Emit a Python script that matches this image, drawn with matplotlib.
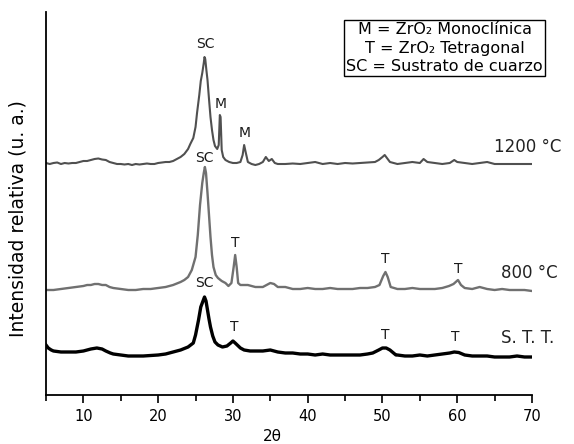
# XRD patterns of ZrO2 films on quartz: as-deposited (S. T. T.), 800 C, 1200 C
import matplotlib
matplotlib.use('Agg')
import matplotlib.pyplot as plt
from matplotlib.ticker import MultipleLocator

# 2theta / relative intensity (traces already stacked)
tt_1200 = [5, 5.5, 6, 6.5, 7, 7.5, 8, 8.5, 9, 9.5, 10, 10.5, 11, 11.5, 12, 12.5, 13, 13.5,
           14, 14.5, 15, 15.5, 16, 16.5, 17, 17.5, 18, 18.5, 19, 19.5, 20, 20.5, 21, 21.5,
           22, 22.5, 23, 23.5, 24, 24.3, 24.7, 25, 25.2, 25.5, 25.7, 25.9, 26.1, 26.2, 26.3,
           26.45, 26.6, 26.8, 27, 27.2, 27.4, 27.6, 27.9, 28.1, 28.25, 28.35, 28.5, 28.7, 29,
           29.5, 30, 30.5, 31, 31.3, 31.5, 31.7, 32, 32.5, 33, 33.5, 34, 34.4, 34.8, 35.2,
           35.6, 36, 37, 38, 39, 40, 41, 42, 43, 44, 45, 46, 47, 48, 49, 49.5, 50, 50.3,
           50.7, 51, 52, 53, 54, 55, 55.5, 56, 57, 58, 59, 59.6, 60, 61, 62, 63, 64, 65, 66,
           67, 68, 69, 70]
int_1200 = [232, 231, 232, 232.5, 231, 232, 231.5, 232, 232, 233, 234, 234, 235, 236, 236.5,
            235.5, 235, 233, 232, 231, 231, 230.5, 231, 230, 231, 230.5, 231, 231.5, 231, 231,
            232, 232.5, 233, 233, 234, 236, 238, 241, 246, 251, 257, 268, 282, 300, 314, 322,
            332, 338, 336, 325, 315, 296, 278, 265, 255, 249, 246, 250, 280, 278, 245, 238,
            235, 233, 232, 232, 233, 240, 250, 243, 233, 231, 230, 231, 233, 238, 234, 236,
            232, 231, 231, 231.5, 231, 232, 233, 231, 232, 231, 232, 231.5, 232, 232.5, 233,
            235, 238, 240, 236, 233, 231, 232, 233, 232, 236, 233, 232, 231, 232, 235, 233,
            232, 231, 232, 233, 231, 231, 231, 231, 231, 231]

tt_800 = [5, 6, 7, 8, 9, 10, 10.5, 11, 11.5, 12, 12.5, 13, 13.5, 14, 15, 16, 17, 18, 19, 20,
          21, 22, 23, 23.5, 24, 24.5, 25, 25.3, 25.6, 25.9, 26.1, 26.25, 26.4, 26.6, 26.8,
          27, 27.2, 27.4, 27.7, 28, 28.5, 29, 29.4, 29.8, 30.1, 30.3, 30.5, 30.7, 31, 32, 33,
          34, 35, 35.5, 36, 37, 38, 39, 40, 41, 42, 43, 44, 45, 46, 47, 48, 49, 49.6, 50.1,
          50.4, 50.7, 51.1, 52, 53, 54, 55, 56, 57, 58, 58.9, 59.5, 60.1, 60.5, 61, 62, 63,
          64, 65, 66, 67, 68, 69, 70]
int_800 = [105, 105, 106, 107, 108, 109, 110, 110, 111, 111, 110, 110, 108, 107, 106, 105,
           105, 106, 106, 107, 108, 110, 113, 115, 118, 125, 138, 160, 190, 212, 222, 228,
           222, 202, 180, 158, 140, 128, 120, 117, 114, 112, 109, 112, 128, 140, 128, 112,
           110, 110, 108, 108, 112, 111, 108, 108, 106, 106, 107, 106, 106, 107, 106, 106,
           106, 107, 107, 108, 110, 119, 123, 118, 108, 106, 106, 107, 106, 106, 106, 107,
           109, 111, 115, 110, 107, 106, 108, 106, 105, 106, 105, 105, 105, 104]

tt_stt = [5, 5.3, 5.7, 6, 7, 8, 9, 10, 11, 11.8, 12.5, 13, 13.6, 14, 15, 16, 17, 18, 19, 20,
          21, 22, 23, 24, 24.7, 25, 25.4, 25.7, 25.9, 26.2, 26.4, 26.6, 26.8, 27, 27.3, 27.6,
          28, 28.6, 29.2, 29.7, 30, 30.3, 31, 31.5, 32.3, 33, 34, 35, 36, 37, 38, 39, 40, 41,
          42, 43, 44, 45, 46, 47, 48, 48.7, 49.5, 50, 50.5, 51, 51.8, 52, 53, 54, 55, 56, 57,
          58, 59, 59.6, 60.2, 61, 62, 63, 64, 65, 66, 67, 68, 69, 70]
int_stt = [50, 47, 45, 44, 43, 43, 43, 44, 46, 47, 46, 44, 42, 41, 40, 39, 39, 39, 39.5, 40,
           41, 43, 45, 48, 52, 60, 75, 88, 92, 98, 94, 85, 76, 68, 59, 53, 50, 48, 49, 52, 54,
           52, 47, 45, 44, 44, 44, 45, 43, 42, 42, 41, 41, 40, 41, 40, 40, 40, 40, 40, 41, 42,
           45, 47, 47, 45, 40, 40, 39, 39, 40, 39, 40, 41, 42, 43, 42.5, 40, 39, 39, 39, 38,
           38, 38, 39, 38, 38]

sample_labels = ['1200 °C', '800 °C', 'S. T. T.']
legend_text = 'M = ZrO₂ Monoclínica\nT = ZrO₂ Tetragonal\nSC = Sustrato de cuarzo'

fig = plt.figure(figsize=(5.74, 4.44), dpi=100)
ax = fig.add_axes([46 / 574, 49 / 444, 486 / 574, 383 / 444])

ax.plot(tt_1200, int_1200, color='#505050', lw=1.5)
ax.plot(tt_800, int_800, color='#707070', lw=1.7)
ax.plot(tt_stt, int_stt, color='black', lw=2.4)

ax.set_xlim(5, 70)
ax.set_ylim(0, 383)

# peak markers
peaks = [('SC', 26.3, 351), ('M', 28.4, 291), ('M', 31.6, 262),
         ('SC', 26.2, 237), ('T', 30.3, 152), ('T', 50.4, 136), ('T', 60.1, 126),
         ('SC', 26.2, 112), ('T', 30.2, 68), ('T', 50.4, 60), ('T', 59.8, 58)]
for lab, x, y in peaks:
    ax.text(x, y, lab, ha='center', va='center', fontsize=10, color='#1a1a1a')

for lab, y in zip(sample_labels, [248, 122, 57]):
    ax.text(64.9 if lab.startswith('1200') else 65.8, y, lab, ha='left', va='center',
            fontsize=12, color='#222222', clip_on=False)

ax.text(58.3, 347, legend_text, ha='center', va='center', fontsize=11.5,
        multialignment='center', linespacing=1.3,
        bbox=dict(boxstyle='square,pad=0.12', fc='white', ec='black', lw=1))

for side in ['top', 'right']:
    ax.spines[side].set_visible(False)
ax.spines['left'].set_linewidth(1.3)
ax.spines['bottom'].set_linewidth(1.3)

ax.set_yticks([])
ax.xaxis.set_major_locator(MultipleLocator(10))
ax.xaxis.set_minor_locator(MultipleLocator(5))
ax.tick_params(axis='x', which='major', direction='out', length=6, width=1.2, labelsize=10.5, pad=4)
ax.tick_params(axis='x', which='minor', direction='out', length=4, width=1.2)

ax.set_xlabel('2θ', fontsize=11)
ax.xaxis.set_label_coords(0.465, -0.09)
ax.set_ylabel('Intensidad relativa (u. a.)', fontsize=13.5)
ax.yaxis.set_label_coords(-0.038, 0.46)

fig.savefig('out.png', dpi=100)
